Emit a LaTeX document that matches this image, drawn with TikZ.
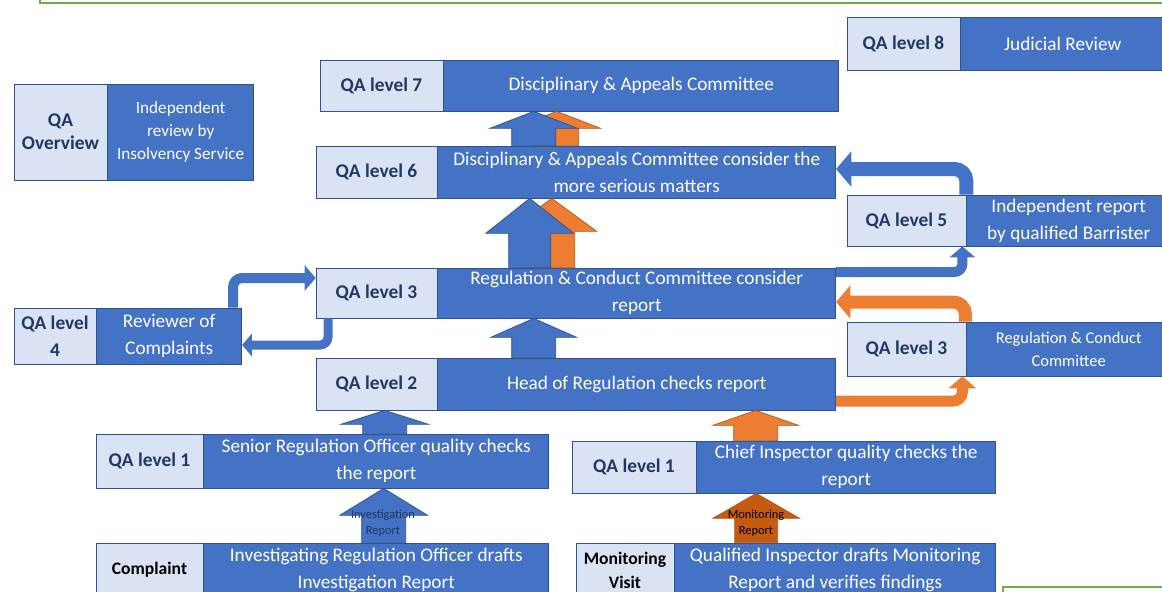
\documentclass[tikz,border=0pt]{standalone}
\usepackage{fontspec}
\setmainfont{Carlito}
\usetikzlibrary{positioning, arrows.meta, calc}
\definecolor{descfill}{HTML}{4472C4}
\definecolor{qafill}{HTML}{DAE3F3}
\definecolor{boxline}{HTML}{2F528F}
\definecolor{qatext}{HTML}{1F3864}
\definecolor{orangefill}{HTML}{ED7D31}
\definecolor{orangeline}{HTML}{AE5A21}
\definecolor{rustfill}{HTML}{C55A11}
\definecolor{frameline}{HTML}{70AD47}
\newcommand{\pxu}{0.025cm}
% fat up arrow: style, from, to, half shaft, half head, head length (px)
\newcommand{\fatup}[6]{%
  \draw[#1] let \p1=(#2), \p2=(#3) in
    (\x1-#4*\pxu,\y1) -- (\x1-#4*\pxu,\y2-#6*\pxu) -- (\x1-#5*\pxu,\y2-#6*\pxu)
    -- (\x1,\y2) -- (\x1+#5*\pxu,\y2-#6*\pxu) -- (\x1+#4*\pxu,\y2-#6*\pxu)
    -- (\x1+#4*\pxu,\y1) -- cycle;}
\tikzset{
    qa/.style={
        rectangle,
        draw=boxline,
        line width=0.5pt,
        fill=qafill,
        text=qatext,
        inner sep=0pt,
        align=center,
        font=\fontsize{13.8}{19.2}\selectfont\bfseries
    },
    stage/.style={
        qa,
        text=black,
        font=\fontsize{12.5}{17}\selectfont\bfseries
    },
    desc/.style={
        rectangle,
        draw=boxline,
        line width=0.5pt,
        fill=descfill,
        text=white,
        inner sep=0pt,
        align=center,
        font=\fontsize{13.7}{19.2}\selectfont
    },
    tag/.style={
        inner sep=0pt,
        align=center,
        text=qatext,
        font=\fontsize{8.8}{11.4}\selectfont
    },
    fatblue/.style={fill=descfill, draw=boxline, line width=0.5pt},
    fatorange/.style={fill=orangefill, draw=orangeline, line width=0.5pt},
    fatrust/.style={fill=rustfill, draw=orangeline, line width=0.5pt},
    bendblue/.style={draw=descfill, -{Triangle[width=0pt 2.5, length=0pt 1.1]}},
    bendorange/.style={draw=orangefill, -{Triangle[width=0pt 2.5, length=0pt 1.1]}}
}

\begin{document}
\begin{tikzpicture}[x=0.025cm, y=-0.025cm]
\useasboundingbox (0,0) rectangle (1162,591);
\clip (0,0) rectangle (1162,591);

% Frames of the page
\draw[frameline, line width=1pt] (40,-20) rectangle (1180,3);
\draw[frameline, line width=1pt] (1003,587) rectangle (1180,620);

% Overview
\node[qa, minimum width=93*\pxu, minimum height=96*\pxu, font=\fontsize{13.8}{16.4}\selectfont\bfseries] (ovq) at (60.5,132) {QA\\Overview};
\node[desc, minimum width=146*\pxu, minimum height=96*\pxu, font=\fontsize{12.2}{16.4}\selectfont, right=0pt of ovq] (ovd) {Independent\\review by\\Insolvency Service};

% Upper levels
\node[qa, minimum width=113*\pxu, minimum height=53*\pxu] (l8q) at (903.5,43.5) {QA level 8};
\node[desc, minimum width=204*\pxu, minimum height=53*\pxu, right=0pt of l8q] (l8d) {Judicial Review};
\node[qa, minimum width=123*\pxu, minimum height=51*\pxu] (l7q) at (381.5,85.5) {QA level 7};
\node[desc, minimum width=395*\pxu, minimum height=51*\pxu, right=0pt of l7q] (l7d) {Disciplinary \& Appeals Committee};
\node[qa, minimum width=121*\pxu, minimum height=52*\pxu] (l6q) at (376.5,172) {QA level 6};
\node[desc, minimum width=398*\pxu, minimum height=52*\pxu, right=0pt of l6q] (l6d) {Disciplinary \& Appeals Committee consider the\\more serious matters};
\node[qa, minimum width=119*\pxu, minimum height=51*\pxu] (l5q) at (906.5,220.5) {QA level 5};
\node[desc, minimum width=204*\pxu, minimum height=51*\pxu, right=0pt of l5q] (l5d) {Independent report\\by qualified Barrister};

% Middle levels
\node[qa, minimum width=121*\pxu, minimum height=50*\pxu] (l3q) at (376.5,293) {QA level 3};
\node[desc, minimum width=398*\pxu, minimum height=50*\pxu, right=0pt of l3q] (l3d) {Regulation \& Conduct Committee consider\\report};
\node[qa, minimum width=82*\pxu, minimum height=56*\pxu] (l4q) at (55,336) {QA level\\4};
\node[desc, minimum width=145*\pxu, minimum height=56*\pxu, right=0pt of l4q] (l4d) {Reviewer of\\Complaints};
\node[qa, minimum width=119*\pxu, minimum height=54*\pxu] (l3rq) at (906.5,349) {QA level 3};
\node[desc, minimum width=204*\pxu, minimum height=54*\pxu, font=\fontsize{11.7}{16.4}\selectfont, right=0pt of l3rq] (l3rd) {Regulation \& Conduct\\Committee};
\node[qa, minimum width=121*\pxu, minimum height=52*\pxu] (l2q) at (376.5,384) {QA level 2};
\node[desc, minimum width=398*\pxu, minimum height=52*\pxu, right=0pt of l2q] (l2d) {Head of Regulation checks report};

% Lower levels
\node[qa, minimum width=107*\pxu, minimum height=54*\pxu] (l1q) at (149.5,461) {QA level 1};
\node[desc, minimum width=345*\pxu, minimum height=54*\pxu, right=0pt of l1q] (l1d) {Senior Regulation Officer quality checks\\the report};
\node[qa, minimum width=124*\pxu, minimum height=52*\pxu] (l1rq) at (634,467) {QA level 1};
\node[desc, minimum width=299*\pxu, minimum height=52*\pxu, right=0pt of l1rq] (l1rd) {Chief Inspector quality checks the\\report};
\node[stage, minimum width=107*\pxu, minimum height=54*\pxu] (cpq) at (149.5,570) {Complaint};
\node[desc, minimum width=345*\pxu, minimum height=54*\pxu, right=0pt of cpq] (cpd) {Investigating Regulation Officer drafts\\Investigation Report};
\node[stage, minimum width=98*\pxu, minimum height=54*\pxu] (mvq) at (625,570) {Monitoring\\Visit};
\node[desc, minimum width=321*\pxu, minimum height=54*\pxu, right=0pt of mvq] (mvd) {Qualified Inspector drafts Monitoring\\Report and verifies findings};

% Fat arrows upwards
\fatup{fatblue}{[xshift=7.5*\pxu]cpd.north}{l1d.south}{22}{44}{27}
\fatup{fatrust}{[xshift=-79*\pxu]mvd.north}{l1rd.south}{21.5}{43.5}{25}
\fatup{fatblue}{[xshift=8.5*\pxu]l1d.north}{l2d.south}{22}{44}{14}
\fatup{fatorange}{[xshift=-90.5*\pxu]l1rd.north}{l2d.south}{22}{43}{15}
\fatup{fatblue}{[xshift=-103*\pxu]l2d.north}{l3d.south}{22}{43}{19}
\fatup{fatorange}{[xshift=-85*\pxu]l3d.north}{l6d.south}{23}{45}{33}
\fatup{fatblue}{[xshift=-107*\pxu]l3d.north}{l6d.south}{21}{44}{35}
\fatup{fatorange}{[xshift=-80*\pxu]l6d.north}{l7d.south}{22}{44}{17}
\fatup{fatblue}{[xshift=-103*\pxu]l6d.north}{l7d.south}{22}{44}{17}

\node[tag] (invtag) at (383,523) {Investigation\\Report};
\node[tag, text=black] (montag) at (756,523) {Monitoring\\Report};

% Bent arrows
\draw[bendblue, line width=10*\pxu, rounded corners=8*\pxu] ([yshift=21*\pxu]l3d.east) -| ([xshift=-4*\pxu]l5q.south east);
\draw[bendblue, line width=14*\pxu, rounded corners=12*\pxu] (l5q.north east) |- ([yshift=3*\pxu]l6d.east);
\draw[bendorange, line width=13*\pxu, rounded corners=12*\pxu] ([xshift=-1*\pxu]l3rq.north east) |- ([yshift=-9*\pxu]l3d.east);
\draw[bendorange, line width=11*\pxu, rounded corners=9*\pxu] ([yshift=-17*\pxu]l2d.east) -| ([xshift=-4*\pxu]l3rq.south east);
\draw[bendblue, line width=10*\pxu, rounded corners=9*\pxu] ([xshift=-9*\pxu]l4d.north east) |- ([yshift=15*\pxu]l3q.west);
\draw[bendblue, line width=9*\pxu, rounded corners=8*\pxu] ([xshift=-48.5*\pxu]l3q.south) |- ([yshift=-9*\pxu]l4d.east);

\end{tikzpicture}
\end{document}
